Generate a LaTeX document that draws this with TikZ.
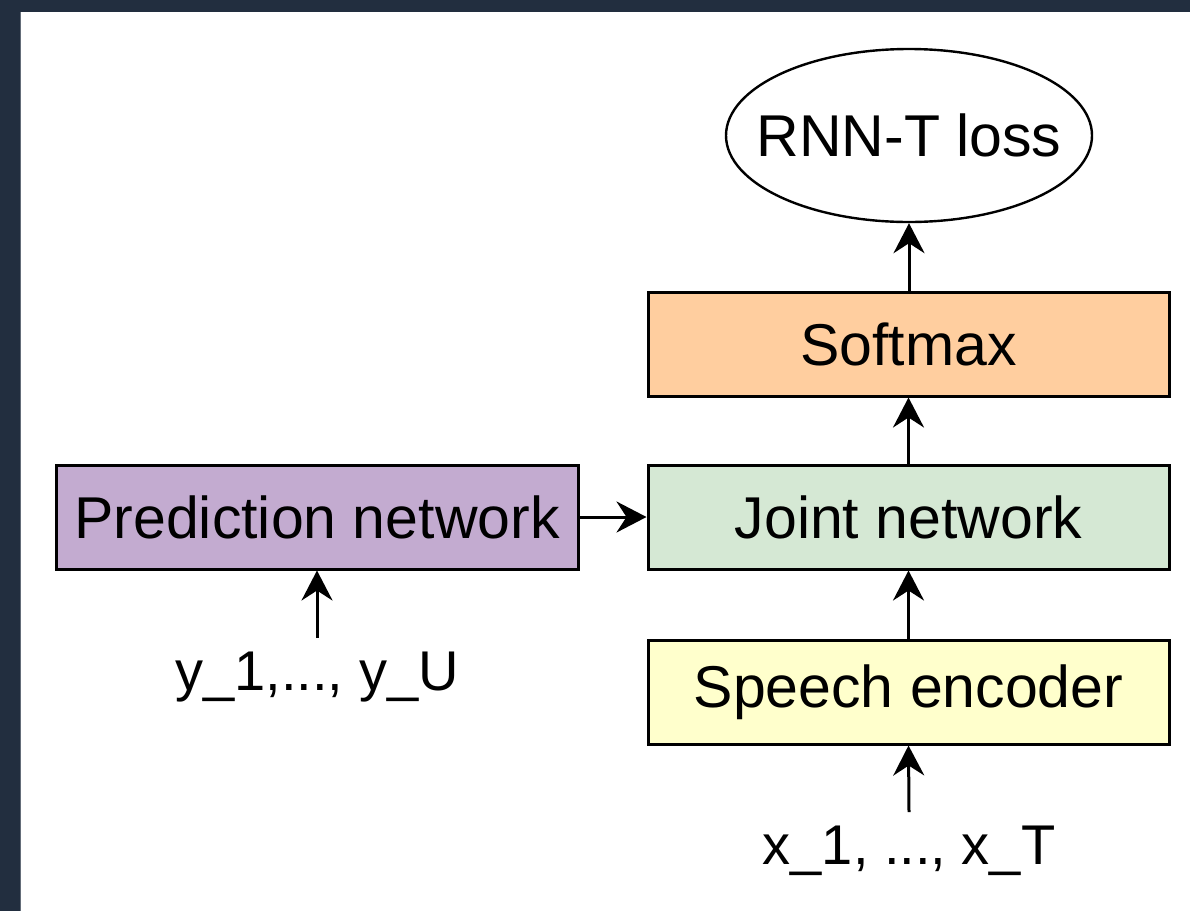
\documentclass[tikz,border=0pt]{standalone}
\usepackage{fontspec}
\setmainfont{Liberation Sans}
\usetikzlibrary{arrows.meta,shapes.geometric}
\definecolor{frame}{HTML}{222E3F}
\definecolor{softc}{HTML}{FFCE9F}
\definecolor{jointc}{HTML}{D5E8D4}
\definecolor{encc}{HTML}{FFFFCC}
\definecolor{predc}{HTML}{C3ABD0}
\begin{document}
\begin{tikzpicture}[x=1pt,y=-1pt,
  every node/.style={font=\fontsize{59}{70}\selectfont, text=black},
  lbl/.style={font=\fontsize{56}{66}\selectfont, inner sep=0pt, anchor=base},
  blk/.style={draw=black, line width=3pt, minimum width=521pt, minimum height=104pt, inner sep=0pt},
  arr/.style={draw=black, line width=3pt, -{Stealth[length=30pt,width=31pt,inset=10pt]}}]
\useasboundingbox (0,0) rectangle (1190,911);
\fill[white] (0,0) rectangle (1190,911);
\fill[frame] (0,0) rectangle (1190,12);
\fill[frame] (0,0) rectangle (20,911);
\draw[color=frame!70!white, line width=1pt] (20.5,12) -- (20.5,911);
\node[ellipse, draw=black, line width=2.4pt, minimum width=366pt, minimum height=173pt, inner sep=0pt] (loss) at (909,135.5) {};
\node[inner sep=0pt] (losstxt) at (loss.center) {RNN-T loss};
\node[blk, fill=softc] (soft) at (908.5,344) {Softmax};
\node[blk, fill=jointc] (joint) at (908.5,517) {Joint network};
\node[blk, fill=encc] (enc) at (908.5,692) {Speech encoder};
\node[blk, fill=predc, minimum width=522pt] (pred) at (317,517) {Prediction network};
\node[lbl] (ylab) at (317,690) {y\_1,..., y\_U};
\node[lbl] (xlab) at (909,864) {x\_1, ..., x\_T};
\coordinate (ystart) at (317,638);
\coordinate (xstart) at (909,812);
\draw[arr] (soft.north -| loss.south) -- (loss.south);
\draw[arr] (joint.north) -- (soft.south);
\draw[arr] (enc.north) -- (joint.south);
\draw[arr] (pred.east) -- (joint.west);
\draw[arr] (ystart) -- (pred.south);
\draw[arr] (xstart) -- (enc.south);
\end{tikzpicture}
\end{document}
